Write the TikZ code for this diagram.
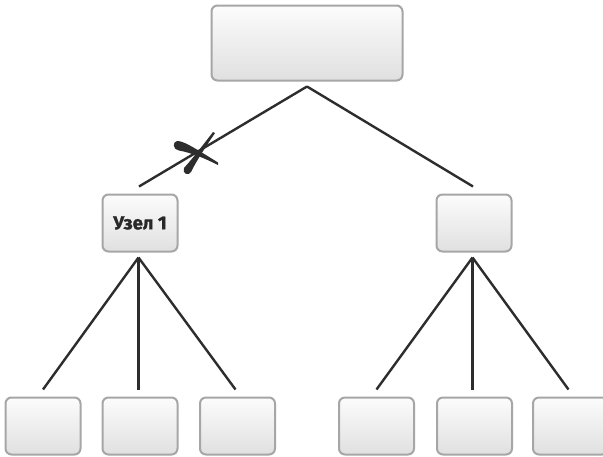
\documentclass[tikz,border=0pt]{standalone}
\usepackage{fontspec}
\setmainfont{Fira Sans}
\newfontfamily\nodefont[FakeBold=1.2]{Fira Sans Bold}
\usepackage{tikz}
\usepackage{xcolor}
\usetikzlibrary{calc}
\definecolor{LineColor}{RGB}{45,45,45}
\definecolor{BoxBorder}{RGB}{166,166,166}
\definecolor{BoxTop}{RGB}{252,252,252}
\definecolor{BoxBottom}{RGB}{224,224,224}
\definecolor{TextColor}{RGB}{40,40,40}

\begin{document}
\begin{tikzpicture}[x=0.5pt, y=-0.5pt,
    box/.style={draw=BoxBorder, line width=1pt, rounded corners=3pt, top color=BoxTop, bottom color=BoxBottom, inner sep=0pt, text=TextColor, font=\nodefont\fontsize{9.4}{11}\selectfont},
    smallbox/.style={box, minimum width=37.5pt, minimum height=28.5pt},
    link/.style={draw=LineColor, line width=1.2pt, line join=miter}]
      \useasboundingbox (0,0) rectangle (603,456);
      \fill[white] (0,0) rectangle (603,456);
      \node[box, minimum width=95.5pt, minimum height=37.5pt] (root) at (307,43) {};
      \node[smallbox] (n1) at (140,223) {Узел 1};
      \node[smallbox] (n2) at (474,223) {};
      \node[smallbox] (a1) at (43,426) {};
      \node[smallbox] (a2) at (140,426) {};
      \node[smallbox] (a3) at (237.5,426) {};
      \node[smallbox] (b1) at (376.5,426) {};
      \node[smallbox] (b2) at (474.5,426) {};
      \node[smallbox] (b3) at (570.5,426) {};
      \coordinate (rootjoin) at ($(root.south)+(0,5)$);
      \coordinate (n1join) at ($(n1.south)+(-1.5,5)$);
      \coordinate (n2join) at ($(n2.south)+(-1.5,5)$);
      \draw[link] (rootjoin) -- ($(n1.north)+(-1,-7)$);
      \draw[link] (rootjoin) -- ($(n2.north)+(-1,-7)$);
      \draw[link] (n1join) -- ($(a1.north)+(0,-7)$);
      \draw[link] (n1join) -- ($(a2.north -| n1join)+(0,-7)$);
      \draw[link] (n1join) -- ($(a3.north)+(-2,-7)$);
      \draw[link] (n2join) -- ($(b1.north)+(0,-7)$);
      \draw[link] (n2join) -- ($(b2.north -| n2join)+(0,-7)$);
      \draw[link] (n2join) -- ($(b3.north)+(-2,-7)$);
      \fill[LineColor] (177,141) .. controls (183,141) and (190,145) .. (218,162.5)
        -- (218,165) .. controls (204,158) and (192,153) .. (179,150.5)
        .. controls (173,150) and (172,142) .. (177,141) -- cycle;
      \fill[LineColor] (213,132) .. controls (203,145) and (193,158) .. (184,168)
        .. controls (182,174) and (189,176) .. (191,172)
        .. controls (198,158) and (207,145) .. (215,133) -- cycle;
    \end{tikzpicture}
\end{document}
